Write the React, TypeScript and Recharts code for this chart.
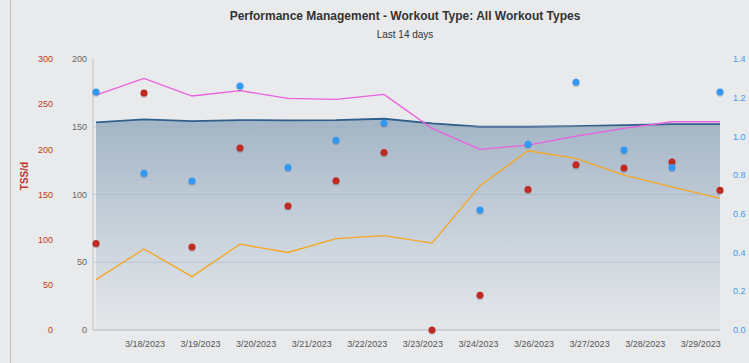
import React from "react"
import {
  ComposedChart,
  Area,
  Line,
  XAxis,
  YAxis,
  ReferenceLine,
} from "recharts"

// 14 daily points, 3/16 .. 3/29
const dayIndex = [0, 1, 2, 3, 4, 5, 6, 7, 8, 9, 10, 11, 12, 13]
const fitness = [153.2, 155.4, 154.2, 154.9, 154.7, 154.9, 155.9, 152.5, 150, 150, 150.5, 151.2, 152, 152]
const fatigue = [173.4, 185.7, 172.7, 176.6, 171, 170.2, 173.9, 148.8, 133.3, 136.5, 143.1, 148.8, 153.7, 153.7]
const form = [37.2, 59.8, 39.4, 63.3, 57.2, 67.5, 69.7, 64.1, 106.4, 132.3, 126.6, 114.3, 105.7, 97.1]
const tssPerDay = [95.8, 262.3, 92, 201.4, 137.4, 165.1, 196.6, 0, 38.5, 155.6, 182.9, 179.2, 185.9, 154.8]
const intensity = [1.23, 0.81, 0.77, 1.26, 0.84, 0.98, 1.07, null, 0.62, 0.96, 1.28, 0.93, 0.84, 1.23]

const xLabels = [
  "3/18/2023", "3/19/2023", "3/20/2023", "3/21/2023", "3/22/2023", "3/23/2023",
  "3/24/2023", "3/26/2023", "3/27/2023", "3/28/2023", "3/29/2023",
]
const mainTicks = [0, 50, 100, 150, 200]
const tssTicks = [0, 50, 100, 150, 200, 250, 300]
const ifTicks = [0, 0.2, 0.4, 0.6, 0.8, 1.0, 1.2, 1.4]

// the date labels don't sit on the points in the original, they run on their own spacing
const LABEL_START = 1.02
const LABEL_STEP = 1.158
const labelTicks = xLabels.map((_, i) => LABEL_START + i * LABEL_STEP)

const data = dayIndex.map((i) => ({
  i,
  fitness: fitness[i],
  fatigue: fatigue[i],
  form: form[i],
  tss: tssPerDay[i],
  intensity: intensity[i],
}))

const FONT = '"Liberation Sans", Arial, Helvetica, sans-serif'
const BG = "#e9eaec"

function makeDot(color: string) {
  return (props: any) => {
    const { cx, cy, value, index } = props
    if (value == null || cx == null || cy == null) return <g key={index} />
    return (
      <g key={index}>
        <circle cx={cx} cy={cy + 1.2} r={3.6} fill="#000" opacity={0.18} />
        <circle cx={cx} cy={cy} r={3.5} fill={color} />
      </g>
    )
  }
}

export default function App() {
  return (
    <div style={{ position: "relative", width: 749, height: 363, background: BG, fontFamily: FONT }}>
      <style>{`body{margin:0;background:${BG}}`}</style>
      <div style={{ position: "absolute", left: 10, top: 0, width: 1, height: 363, background: "#bfbfbf" }} />
      <div
        style={{
          position: "absolute",
          top: 9,
          left: 0,
          width: 810,
          textAlign: "center",
          fontSize: 12,
          fontWeight: "bold",
          color: "#333",
        }}
      >
        Performance Management - Workout Type: All Workout Types
      </div>
      <div
        style={{
          position: "absolute",
          top: 29,
          left: 0,
          width: 810,
          textAlign: "center",
          fontSize: 10,
          color: "#333",
        }}
      >
        Last 14 days
      </div>
      <div style={{ position: "absolute", left: 0, top: 0 }}>
        <ComposedChart
          width={749}
          height={363}
          data={data}
          margin={{ top: 59, right: 0, bottom: 0, left: 12 }}
        >
          <defs>
            <linearGradient id="fitFill" x1="0" y1="0" x2="0" y2="1">
              <stop offset="0%" stopColor="#4a7296" stopOpacity={0.44} />
              <stop offset="55%" stopColor="#4a7296" stopOpacity={0.2} />
              <stop offset="100%" stopColor="#4a7296" stopOpacity={0.03} />
            </linearGradient>
          </defs>
          <XAxis
            dataKey="i"
            type="number"
            domain={[0, 13]}
            ticks={labelTicks}
            interval={0}
            tickFormatter={(v: number) => xLabels[labelTicks.indexOf(v)] ?? ""}
            padding={{ left: 3, right: 0 }}
            height={33}
            tickLine={false}
            tickSize={0}
            tickMargin={11}
            axisLine={{ stroke: "#b5b5b5" }}
            tick={{ fontSize: 9, fill: "#555", fontFamily: FONT }}
          />
          <YAxis
            yAxisId="main"
            orientation="left"
            width={30}
            domain={[0, 200]}
            ticks={mainTicks}
            interval={0}
            tickLine={false}
            tickSize={0}
            tickMargin={6}
            axisLine={{ stroke: "#c2c2c2" }}
            tick={{ fontSize: 9, fill: "#666", fontFamily: FONT }}
          />
          <YAxis
            yAxisId="tss"
            orientation="left"
            width={51}
            domain={[0, 300]}
            ticks={tssTicks}
            interval={0}
            tickLine={false}
            tickSize={0}
            tickMargin={10}
            axisLine={false}
            tick={{ fontSize: 9, fill: "#c0392b", fontFamily: FONT }}
            label={{
              content: () => (
                <text
                  x={28}
                  y={176}
                  transform="rotate(-90 28 176)"
                  textAnchor="middle"
                  fontSize={10}
                  fontWeight="bold"
                  fill="#c0392b"
                  fontFamily={FONT}
                >
                  TSS/d
                </text>
              ),
            }}
          />
          <YAxis
            yAxisId="if"
            orientation="right"
            width={29}
            domain={[0, 1.4]}
            ticks={ifTicks}
            interval={0}
            tickLine={false}
            tickSize={0}
            tickMargin={13}
            axisLine={false}
            tickFormatter={(v: number) => v.toFixed(1)}
            tick={{ fontSize: 9, fill: "#3d9bef", fontFamily: FONT }}
          />
          <Area
            yAxisId="main"
            type="linear"
            dataKey="fitness"
            stroke="#2f5f8c"
            strokeWidth={1.8}
            fill="url(#fitFill)"
            fillOpacity={1}
            isAnimationActive={false}
          />
          {mainTicks
            .filter((t) => t > 0 && t < 200)
            .map((t) => (
              <ReferenceLine key={t} yAxisId="main" y={t} stroke="#9fb0c0" strokeOpacity={0.5} />
            ))}
          <Line
            yAxisId="main"
            type="linear"
            dataKey="fatigue"
            stroke="#ea5fdf"
            strokeWidth={1.3}
            dot={false}
            isAnimationActive={false}
          />
          <Line
            yAxisId="main"
            type="linear"
            dataKey="form"
            stroke="#f5a623"
            strokeWidth={1.3}
            dot={false}
            isAnimationActive={false}
          />
          <Line
            yAxisId="tss"
            type="linear"
            dataKey="tss"
            stroke="none"
            dot={makeDot("#bf2b22")}
            activeDot={false}
            isAnimationActive={false}
          />
          <Line
            yAxisId="if"
            type="linear"
            dataKey="intensity"
            stroke="none"
            dot={makeDot("#3399f5")}
            activeDot={false}
            isAnimationActive={false}
          />
        </ComposedChart>
      </div>
    </div>
  )
}
